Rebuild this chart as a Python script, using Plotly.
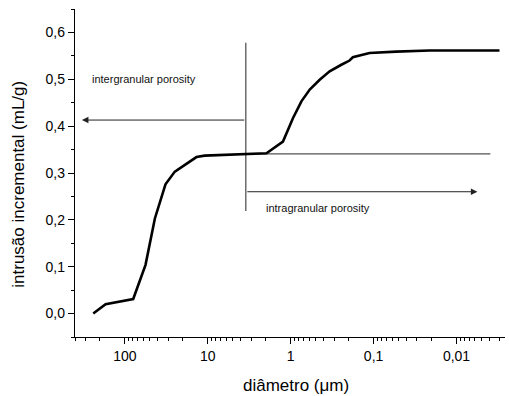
import numpy as np
import plotly.graph_objects as go

# Data
diameter_um = [241, 171, 79.4, 56.4, 43.5, 32.4, 25.0, 19.9, 13.7, 10.9, 3.48,
               1.96, 1.24, 0.94, 0.743, 0.589, 0.447, 0.339, 0.245, 0.195, 0.178,
               0.112, 0.0533, 0.0211, 0.00303]
intrusion_mLg = [0.000, 0.020, 0.031, 0.104, 0.203, 0.276, 0.303, 0.315, 0.334, 0.337, 0.340,
                 0.342, 0.367, 0.417, 0.453, 0.478, 0.499, 0.517, 0.531, 0.540, 0.547,
                 0.556, 0.559, 0.5615, 0.5615]

x_tick_vals = [100, 10, 1, 0.1, 0.01]
x_tick_text = ["100", "10", "1", "0,1", "0,01"]
y_tick_vals = [0.0, 0.1, 0.2, 0.3, 0.4, 0.5, 0.6]
y_tick_text = ["0,0", "0,1", "0,2", "0,3", "0,4", "0,5", "0,6"]

x_title = "diâmetro (μm)"
y_title = "intrusão incremental (mL/g)"

# Annotation values (data coordinates)
boundary_diameter = 3.48
boundary_y = [0.219, 0.578]
plateau_level = 0.341
plateau_end = 0.0039
inter_arrow_y = 0.413
inter_arrow_end = 330
intra_arrow_y = 0.26
intra_arrow_end = 0.0056
inter_label = ("intergranular porosity", 263, 0.5)
intra_label = ("intragranular porosity", 2.1, 0.226)

FONT = "Liberation Sans, Arial, sans-serif"
fig = go.Figure()

fig.add_trace(go.Scatter(x=[boundary_diameter, boundary_diameter], y=boundary_y,
                         mode="lines", line=dict(color="#555555", width=1.3),
                         hoverinfo="skip", showlegend=False))
fig.add_trace(go.Scatter(x=[boundary_diameter, plateau_end], y=[plateau_level, plateau_level],
                         mode="lines", line=dict(color="#555555", width=1.3),
                         hoverinfo="skip", showlegend=False))
fig.add_trace(go.Scatter(x=diameter_um, y=intrusion_mLg, mode="lines",
                         line=dict(color="black", width=2.6), showlegend=False))

for y_val, end in [(inter_arrow_y, inter_arrow_end), (intra_arrow_y, intra_arrow_end)]:
    fig.add_annotation(x=np.log10(end), y=y_val, ax=np.log10(boundary_diameter), ay=y_val,
                       xref="x", yref="y", axref="x", ayref="y", text="",
                       showarrow=True, arrowhead=2, arrowsize=1.3, arrowwidth=1,
                       arrowcolor="#222222", standoff=0, startstandoff=0)

for txt, xv, yv in [inter_label, intra_label]:
    fig.add_annotation(x=np.log10(xv), y=yv, xref="x", yref="y", text=txt,
                       showarrow=False, xanchor="left", yanchor="middle",
                       font=dict(family=FONT, size=11, color="#111111"))

# Axis titles
fig.add_annotation(x=0.515, y=-0.149, xref="paper", yref="paper", text=x_title,
                   showarrow=False, xanchor="center", yanchor="middle",
                   font=dict(family=FONT, size=17, color="black"))
fig.add_annotation(x=-0.132, y=0.465, xref="paper", yref="paper", text=y_title,
                   showarrow=False, xanchor="center", yanchor="middle", textangle=-90,
                   font=dict(family=FONT, size=17, color="black"))

fig.update_layout(
    width=509, height=396,
    margin=dict(l=75, r=4, t=9, b=59),
    paper_bgcolor="white", plot_bgcolor="white",
    font=dict(family=FONT, size=14, color="black"),
)
fig.update_xaxes(
    type="log", range=[np.log10(400), np.log10(0.0026)],
    tickvals=x_tick_vals, ticktext=x_tick_text,
    ticks="outside", ticklen=6, tickwidth=1, tickcolor="black",
    minor=dict(ticks="outside", ticklen=3, tickwidth=1, tickcolor="black", dtick="D1"),
    showline=True, linecolor="black", linewidth=1.3, showgrid=False, zeroline=False,
    tickfont=dict(size=14),
)
fig.update_yaxes(
    range=[-0.05, 0.65],
    tickvals=y_tick_vals, ticktext=y_tick_text,
    ticks="outside", ticklen=6, tickwidth=1, tickcolor="black",
    minor=dict(ticks="outside", ticklen=3, tickwidth=1, tickcolor="black", dtick=0.05, tick0=0),
    showline=True, linecolor="black", linewidth=1.3, showgrid=False, zeroline=False,
    tickfont=dict(size=14),
)

fig.write_html("out.html")
